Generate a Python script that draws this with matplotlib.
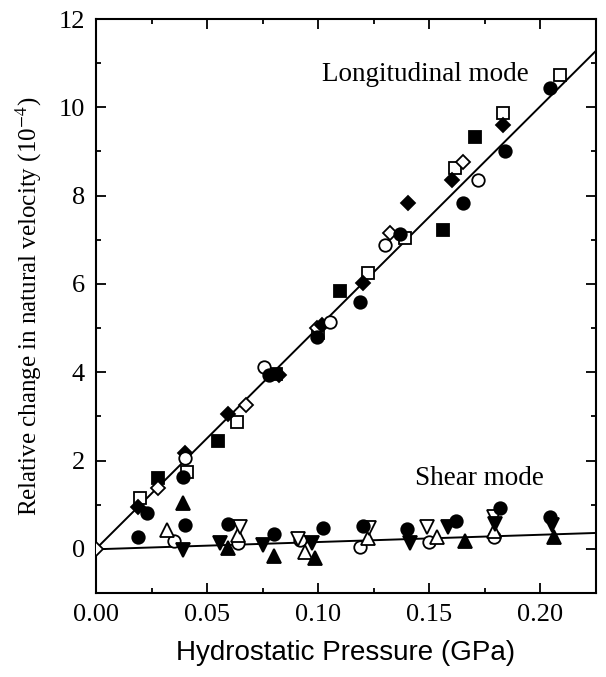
import matplotlib
matplotlib.use("Agg")
import matplotlib.pyplot as plt
from matplotlib.ticker import MultipleLocator

plt.rcParams['mathtext.fontset'] = 'stix'

# ---------------- data ----------------
# Longitudinal mode
L_fc_x = [0.023, 0.039, 0.078, 0.0995, 0.119, 0.137, 0.165, 0.184, 0.2045]
L_fc_y = [0.82, 1.63, 3.94, 4.80, 5.60, 7.12, 7.83, 9.00, 10.44]
L_oc_x = [0.040, 0.0757, 0.1054, 0.130, 0.172]
L_oc_y = [2.06, 4.12, 5.14, 6.88, 8.36]
L_fs_x = [0.028, 0.055, 0.081, 0.110, 0.156, 0.1707]
L_fs_y = [1.60, 2.45, 3.97, 5.85, 7.22, 9.33]
L_os_x = [0.0198, 0.041, 0.0635, 0.100, 0.1225, 0.139, 0.1617, 0.1833, 0.2086]
L_os_y = [1.15, 1.74, 2.88, 4.89, 6.25, 7.05, 8.63, 9.87, 10.73]
L_fd_x = [0.019, 0.040, 0.0595, 0.0825, 0.1018, 0.1203, 0.1405, 0.160, 0.1833]
L_fd_y = [0.95, 2.17, 3.05, 3.94, 5.07, 6.02, 7.84, 8.36, 9.60]
L_od_x = [0.0, 0.028, 0.0676, 0.0995, 0.1325, 0.1653]
L_od_y = [0.0, 1.38, 3.26, 5.00, 7.15, 8.77]

# Shear mode
S_fc_x = [0.019, 0.040, 0.0595, 0.080, 0.102, 0.120, 0.140, 0.162, 0.182, 0.2045]
S_fc_y = [0.27, 0.54, 0.57, 0.34, 0.48, 0.52, 0.45, 0.62, 0.92, 0.72]
S_oc_x = [0.035, 0.064, 0.092, 0.119, 0.1497, 0.179]
S_oc_y = [0.17, 0.14, 0.19, 0.05, 0.16, 0.27]
S_fu_x = [0.039, 0.0595, 0.080, 0.0987, 0.166, 0.206]
S_fu_y = [1.03, 0.02, -0.16, -0.20, 0.18, 0.27]
S_ou_x = [0.032, 0.064, 0.094, 0.1225, 0.1535, 0.179]
S_ou_y = [0.43, 0.31, -0.07, 0.25, 0.27, 0.41]
S_fdn_x = [0.039, 0.056, 0.075, 0.097, 0.1415, 0.1585, 0.1797, 0.2054]
S_fdn_y = [-0.02, 0.14, 0.09, 0.14, 0.13, 0.50, 0.56, 0.55]
S_odn_x = [0.065, 0.091, 0.123, 0.149, 0.179]
S_odn_y = [0.49, 0.23, 0.48, 0.50, 0.72]

# fitted lines (endpoints in data units)
fitL_x = [0.0, 0.225]
fitL_y = [0.0, 11.28]
fitS_x = [0.0, 0.225]
fitS_y = [-0.01, 0.36]

x_ticks = [0.00, 0.05, 0.10, 0.15, 0.20]
x_ticklabels = ["0.00", "0.05", "0.10", "0.15", "0.20"]
y_ticks = [0, 2, 4, 6, 8, 10, 12]

# ---------------- figure ----------------
fig = plt.figure(figsize=(6.06, 6.77), dpi=100)
ax = fig.add_axes([96/606, (677-593)/677, 500/606, (593-19)/677])

ax.plot(fitL_x, fitL_y, color='black', lw=1.4, zorder=2)
ax.plot(fitS_x, fitS_y, color='black', lw=1.4, zorder=2)

ms = 9
ew = 1.3
def filled(x, y, m, s=ms):
    ax.plot(x, y, ls='none', marker=m, ms=s, mfc='black', mec='black', mew=ew, zorder=3)
def opened(x, y, m, s=ms):
    ax.plot(x, y, ls='none', marker=m, ms=s, mfc='white', mec='black', mew=ew, zorder=3)

opened(L_os_x, L_os_y, 's', 8.5)
filled(L_fs_x, L_fs_y, 's', 8.5)
opened(L_od_x, L_od_y, 'D', 7.5)
filled(L_fd_x, L_fd_y, 'D', 7.5)
opened(L_oc_x, L_oc_y, 'o')
filled(L_fc_x, L_fc_y, 'o')

opened(S_oc_x, S_oc_y, 'o')
opened(S_ou_x, S_ou_y, '^', 10)
opened(S_odn_x, S_odn_y, 'v', 10)
filled(S_fu_x, S_fu_y, '^', 10)
filled(S_fdn_x, S_fdn_y, 'v', 10)
filled(S_fc_x, S_fc_y, 'o')

ax.set_xlim(0, 0.225)
ax.set_ylim(-1, 12)

ax.set_xticks(x_ticks)
ax.set_xticklabels(x_ticklabels)
ax.set_yticks(y_ticks)
ax.xaxis.set_minor_locator(MultipleLocator(0.025))
ax.yaxis.set_minor_locator(MultipleLocator(1))
ax.tick_params(which='both', direction='in', top=True, right=True, width=1.3)
ax.tick_params(which='major', length=7, pad=8)
ax.tick_params(which='minor', length=3.5)
for lab in ax.get_xticklabels() + ax.get_yticklabels():
    lab.set_fontfamily('Liberation Serif')
    lab.set_fontsize(19)
for sp in ax.spines.values():
    sp.set_linewidth(1.5)

ax.set_xlabel("Hydrostatic Pressure (GPa)", fontfamily='Liberation Sans', fontsize=20, labelpad=10)
ax.set_ylabel("Relative change in natural velocity (10$^{-4}$)", fontfamily='Liberation Serif',
              fontsize=18, labelpad=10)

ax.text(0.1018, 10.74, "Longitudinal mode", fontfamily='Liberation Serif', fontsize=19.5,
        va='center', ha='left')
ax.text(0.1437, 1.6, "Shear mode", fontfamily='Liberation Serif', fontsize=19.5,
        va='center', ha='left')

fig.savefig("out.png", dpi=100)
